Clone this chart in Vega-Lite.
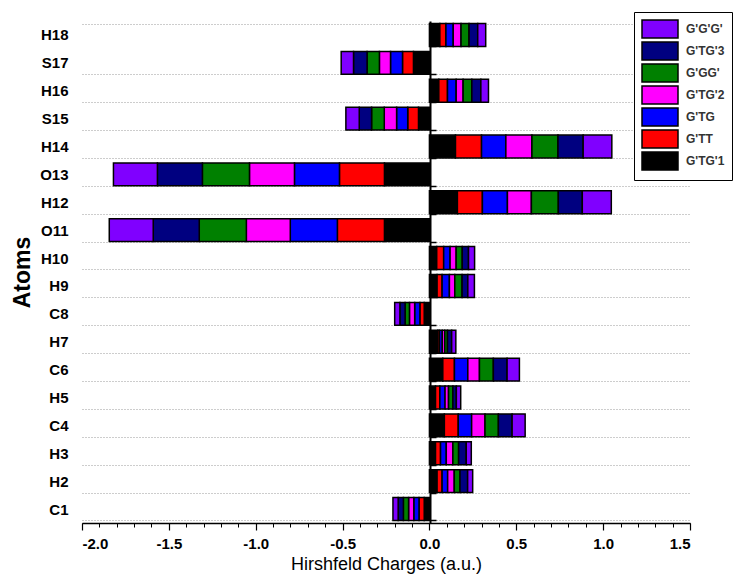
{
  "$schema": "https://vega.github.io/schema/vega-lite/v6.json",
  "width": 608,
  "height": 502,
  "autosize": {"type": "none"},
  "padding": {"left": 82, "top": 21, "right": 50, "bottom": 57},
  "background": "white",
  "config": {"view": {"stroke": null}, "font": "Liberation Sans"},
  "data": {"values": [
    {"a":"H18","c":"G'TG'1","v":0.06},{"a":"H18","c":"G'TT","v":0.035},{"a":"H18","c":"G'TG","v":0.042},{"a":"H18","c":"G'TG'2","v":0.045},{"a":"H18","c":"G'GG'","v":0.046},{"a":"H18","c":"G'TG'3","v":0.05},{"a":"H18","c":"G'G'G'","v":0.046},
    {"a":"S17","c":"G'TG'1","v":-0.092},{"a":"S17","c":"G'TT","v":-0.063},{"a":"S17","c":"G'TG","v":-0.069},{"a":"S17","c":"G'TG'2","v":-0.064},{"a":"S17","c":"G'GG'","v":-0.071},{"a":"S17","c":"G'TG'3","v":-0.078},{"a":"S17","c":"G'G'G'","v":-0.071},
    {"a":"H16","c":"G'TG'1","v":0.054},{"a":"H16","c":"G'TT","v":0.05},{"a":"H16","c":"G'TG","v":0.05},{"a":"H16","c":"G'TG'2","v":0.04},{"a":"H16","c":"G'GG'","v":0.05},{"a":"H16","c":"G'TG'3","v":0.052},{"a":"H16","c":"G'G'G'","v":0.044},
    {"a":"S15","c":"G'TG'1","v":-0.063},{"a":"S15","c":"G'TT","v":-0.062},{"a":"S15","c":"G'TG","v":-0.064},{"a":"S15","c":"G'TG'2","v":-0.071},{"a":"S15","c":"G'GG'","v":-0.073},{"a":"S15","c":"G'TG'3","v":-0.071},{"a":"S15","c":"G'G'G'","v":-0.077},
    {"a":"H14","c":"G'TG'1","v":0.15},{"a":"H14","c":"G'TT","v":0.15},{"a":"H14","c":"G'TG","v":0.14},{"a":"H14","c":"G'TG'2","v":0.15},{"a":"H14","c":"G'GG'","v":0.15},{"a":"H14","c":"G'TG'3","v":0.145},{"a":"H14","c":"G'G'G'","v":0.165},
    {"a":"O13","c":"G'TG'1","v":-0.259},{"a":"O13","c":"G'TT","v":-0.259},{"a":"O13","c":"G'TG","v":-0.259},{"a":"O13","c":"G'TG'2","v":-0.259},{"a":"O13","c":"G'GG'","v":-0.271},{"a":"O13","c":"G'TG'3","v":-0.259},{"a":"O13","c":"G'G'G'","v":-0.253},
    {"a":"H12","c":"G'TG'1","v":0.161},{"a":"H12","c":"G'TT","v":0.144},{"a":"H12","c":"G'TG","v":0.144},{"a":"H12","c":"G'TG'2","v":0.138},{"a":"H12","c":"G'GG'","v":0.155},{"a":"H12","c":"G'TG'3","v":0.138},{"a":"H12","c":"G'G'G'","v":0.167},
    {"a":"O11","c":"G'TG'1","v":-0.259},{"a":"O11","c":"G'TT","v":-0.271},{"a":"O11","c":"G'TG","v":-0.271},{"a":"O11","c":"G'TG'2","v":-0.253},{"a":"O11","c":"G'GG'","v":-0.271},{"a":"O11","c":"G'TG'3","v":-0.265},{"a":"O11","c":"G'G'G'","v":-0.253},
    {"a":"H10","c":"G'TG'1","v":0.042},{"a":"H10","c":"G'TT","v":0.04},{"a":"H10","c":"G'TG","v":0.037},{"a":"H10","c":"G'TG'2","v":0.035},{"a":"H10","c":"G'GG'","v":0.035},{"a":"H10","c":"G'TG'3","v":0.036},{"a":"H10","c":"G'G'G'","v":0.035},
    {"a":"H9","c":"G'TG'1","v":0.044},{"a":"H9","c":"G'TT","v":0.029},{"a":"H9","c":"G'TG","v":0.042},{"a":"H9","c":"G'TG'2","v":0.031},{"a":"H9","c":"G'GG'","v":0.042},{"a":"H9","c":"G'TG'3","v":0.033},{"a":"H9","c":"G'G'G'","v":0.038},
    {"a":"C8","c":"G'TG'1","v":-0.03},{"a":"C8","c":"G'TT","v":-0.025},{"a":"C8","c":"G'TG","v":-0.03},{"a":"C8","c":"G'TG'2","v":-0.03},{"a":"C8","c":"G'GG'","v":-0.025},{"a":"C8","c":"G'TG'3","v":-0.03},{"a":"C8","c":"G'G'G'","v":-0.03},
    {"a":"H7","c":"G'TG'1","v":0.048},{"a":"H7","c":"G'TT","v":0.01},{"a":"H7","c":"G'TG","v":0.016},{"a":"H7","c":"G'TG'2","v":0.014},{"a":"H7","c":"G'GG'","v":0.016},{"a":"H7","c":"G'TG'3","v":0.024},{"a":"H7","c":"G'G'G'","v":0.024},
    {"a":"C6","c":"G'TG'1","v":0.077},{"a":"C6","c":"G'TT","v":0.067},{"a":"C6","c":"G'TG","v":0.077},{"a":"C6","c":"G'TG'2","v":0.067},{"a":"C6","c":"G'GG'","v":0.08},{"a":"C6","c":"G'TG'3","v":0.079},{"a":"C6","c":"G'G'G'","v":0.071},
    {"a":"H5","c":"G'TG'1","v":0.035},{"a":"H5","c":"G'TT","v":0.025},{"a":"H5","c":"G'TG","v":0.03},{"a":"H5","c":"G'TG'2","v":0.02},{"a":"H5","c":"G'GG'","v":0.025},{"a":"H5","c":"G'TG'3","v":0.02},{"a":"H5","c":"G'G'G'","v":0.025},
    {"a":"C4","c":"G'TG'1","v":0.086},{"a":"C4","c":"G'TT","v":0.08},{"a":"C4","c":"G'TG","v":0.077},{"a":"C4","c":"G'TG'2","v":0.077},{"a":"C4","c":"G'GG'","v":0.077},{"a":"C4","c":"G'TG'3","v":0.079},{"a":"C4","c":"G'G'G'","v":0.075},
    {"a":"H3","c":"G'TG'1","v":0.035},{"a":"H3","c":"G'TT","v":0.029},{"a":"H3","c":"G'TG","v":0.033},{"a":"H3","c":"G'TG'2","v":0.038},{"a":"H3","c":"G'GG'","v":0.033},{"a":"H3","c":"G'TG'3","v":0.044},{"a":"H3","c":"G'G'G'","v":0.029},
    {"a":"H2","c":"G'TG'1","v":0.044},{"a":"H2","c":"G'TT","v":0.029},{"a":"H2","c":"G'TG","v":0.032},{"a":"H2","c":"G'TG'2","v":0.038},{"a":"H2","c":"G'GG'","v":0.033},{"a":"H2","c":"G'TG'3","v":0.044},{"a":"H2","c":"G'G'G'","v":0.029},
    {"a":"C1","c":"G'TG'1","v":-0.03},{"a":"C1","c":"G'TT","v":-0.03},{"a":"C1","c":"G'TG","v":-0.03},{"a":"C1","c":"G'TG'2","v":-0.03},{"a":"C1","c":"G'GG'","v":-0.03},{"a":"C1","c":"G'TG'3","v":-0.03},{"a":"C1","c":"G'G'G'","v":-0.03}
  ]},
  "transform": [
    {"calculate": "indexof([\"G'TG'1\",\"G'TT\",\"G'TG\",\"G'TG'2\",\"G'GG'\",\"G'TG'3\",\"G'G'G'\"], datum.c)", "as": "k"}
  ],
  "resolve": {"axis": {"x": "independent", "y": "independent"}},
  "layer": [
    {
      "mark": {"type": "bar", "stroke": "black", "strokeWidth": 1.5},
      "encoding": {
        "y": {
          "field": "a", "type": "nominal",
          "sort": ["H18","S17","H16","S15","H14","O13","H12","O11","H10","H9","C8","H7","C6","H5","C4","H3","H2","C1"],
          "scale": {"paddingInner": 0.18, "paddingOuter": 0.09},
          "axis": {
            "title": "Atoms", "titleFontSize": 23, "titleFontWeight": "bold", "titleColor": "black", "titlePadding": 5,
            "labelFontSize": 15, "labelFontWeight": "bold", "labelColor": "black", "labelPadding": 14,
            "domain": false, "ticks": false, "grid": true, "tickBand": "extent",
            "gridDash": [1, 2], "gridColor": "#9a9a9a", "gridWidth": 1,
            "gridOpacity": {"condition": {"test": "datum.value === 'H18'", "value": 0}, "value": 1}
          }
        },
        "x": {
          "field": "v", "type": "quantitative", "stack": "zero",
          "scale": {"domain": [-2, 1.5], "nice": false, "zero": false},
          "axis": {
            "values": [-2, -1.5, -1, -0.5, 0, 0.5, 1, 1.5], "format": ".1f",
            "labelExpr": "replace(datum.label, '\u2212', '-')",
            "title": "Hirshfeld Charges (a.u.)", "titleFontSize": 18, "titleFontWeight": "normal", "titleColor": "black", "titlePadding": 4,
            "labelFontSize": 15, "labelFontWeight": "bold", "labelColor": "black", "labelPadding": 6,
            "grid": false, "domainColor": "black", "domainWidth": 1.5, "tickColor": "black", "tickSize": 7, "tickWidth": 1.2
          }
        },
        "color": {
          "field": "c", "type": "nominal",
          "scale": {
            "domain": ["G'G'G'","G'TG'3","G'GG'","G'TG'2","G'TG","G'TT","G'TG'1"],
            "range": ["#8000FF","#000080","#008000","#FF00FF","#0000FF","#FF0000","#000000"]
          },
          "legend": {
            "title": null, "orient": "none", "legendX": 552, "legendY": -9,
            "padding": 7, "strokeColor": "black", "fillColor": "white",
            "symbolType": "M-1,-1H3V1H-1Z", "symbolSize": 324,
            "symbolStrokeColor": "black", "symbolStrokeWidth": 1.5, "symbolOpacity": 1,
            "labelOffset": 25, "labelFontSize": 12, "labelFontWeight": "bold", "labelColor": "#333333",
            "rowPadding": -2
          }
        },
        "order": {"field": "k", "type": "quantitative", "sort": "ascending"}
      }
    },
    {
      "mark": {"type": "point", "opacity": 0},
      "encoding": {
        "y": {
          "field": "a", "type": "nominal",
          "sort": ["H18","S17","H16","S15","H14","O13","H12","O11","H10","H9","C8","H7","C6","H5","C4","H3","H2","C1"],
          "axis": {
            "orient": "right", "offset": -260, "title": null, "labels": false,
            "domain": true, "domainColor": "black", "domainWidth": 2,
            "ticks": true, "tickBand": "extent", "tickSize": 6, "tickWidth": 1.5, "tickColor": "black", "grid": false
          }
        },
        "x": {
          "datum": 0, "type": "quantitative",
          "axis": {
            "orient": "bottom", "title": null, "labels": false, "domain": false, "grid": false,
            "values": [-2,-1.9,-1.8,-1.7,-1.6,-1.5,-1.4,-1.3,-1.2,-1.1,-1,-0.9,-0.8,-0.7,-0.6,-0.5,-0.4,-0.3,-0.2,-0.1,0,0.1,0.2,0.3,0.4,0.5,0.6,0.7,0.8,0.9,1,1.1,1.2,1.3,1.4,1.5],
            "tickSize": 4, "tickColor": "black", "tickWidth": 1
          }
        }
      }
    }
  ]
}
